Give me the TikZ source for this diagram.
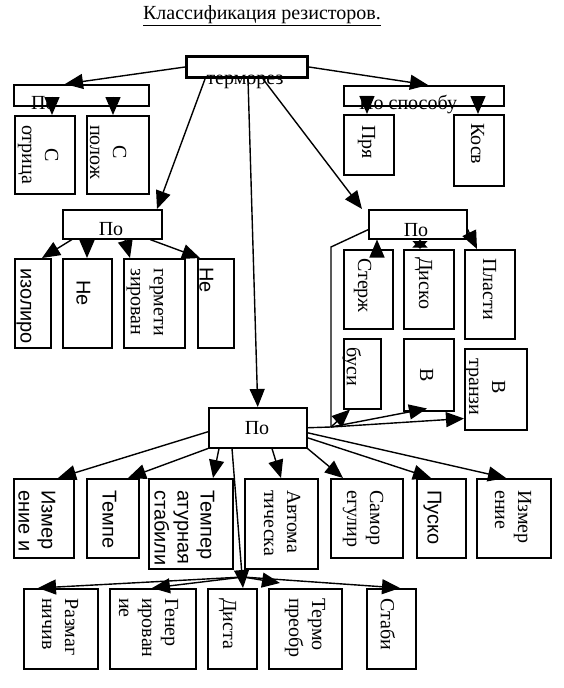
\documentclass[tikz,border=0pt]{standalone}
\usepackage{fontspec}
\setmainfont{Liberation Serif}
\setsansfont{Liberation Sans}
\usetikzlibrary{arrows.meta}
\tikzset{
  blk/.style={draw, line width=1.5pt, inner sep=0pt, anchor=north west},
  htx/.style={inner sep=0pt, font=\fontsize{20}{23}\selectfont},
  vtx/.style={rotate=-90, anchor=north west, inner sep=0pt, align=left, font=\fontsize{20}{23}\selectfont},
  vsf/.style={vtx, font=\sffamily\fontsize{20}{23}\selectfont},
  arr/.style={-{Triangle[length=18pt,width=15pt]}, line width=1.4pt},
}
\begin{document}
\begin{tikzpicture}[x=1pt, y=-1pt]
\useasboundingbox (0,0) rectangle (564,688);

\node[htx] (title) at (262,16) {\underline{Классификация резисторов.}};

\node[blk, line width=3pt, minimum width=121pt, minimum height=21pt] (top) at (185,55) {};
\node[htx, anchor=base] (topT) at (245,84) {терморез};

% left group
\node[blk, minimum width=135pt, minimum height=21pt] (pl) at (13,84) {};
\node[htx, anchor=base west] (plT) at (31,109) {По};
\node[blk, minimum width=60pt, minimum height=78pt] (otr) at (14,115) {};
\node[blk, minimum width=62pt, minimum height=78pt] (pol) at (86,115) {};
\node[vtx, align=center] (otrT) at ([shift={(-17,10)}]otr.north east) {С\\отрица};
\node[vtx, align=center] (polT) at ([shift={(-23,10)}]pol.north east) {С\\полож};

% right group
\node[blk, minimum width=160pt, minimum height=20pt] (pr) at (343,85) {};
\node[htx, anchor=base west] (prT) at (359,109) {По способу};
\node[blk, minimum width=50pt, minimum height=60pt] (prj) at (343,114) {};
\node[blk, minimum width=50pt, minimum height=71pt] (kos) at (453,114) {};
\node[vtx] (prjT) at ([shift={(-19,11)}]prj.north east) {Пря};
\node[vtx] (kosT) at ([shift={(-20,9)}]kos.north east) {Косв};

% middle left
\node[blk, minimum width=99pt, minimum height=29pt] (pm) at (62,209) {};
\node[htx, anchor=base] (pmT) at (111,235) {По};
\node[blk, minimum width=36pt, minimum height=89pt] (izo) at (14,258) {};
\node[blk, minimum width=49pt, minimum height=89pt] (ne1) at (62,258) {};
\node[blk, minimum width=61pt, minimum height=89pt] (ger) at (123,258) {};
\node[blk, minimum width=36pt, minimum height=89pt] (ne2) at (197,258) {};
\node[vsf] (izoT) at ([shift={(-20,10)}]izo.north east) {изолиро};
\node[vsf] (ne1T) at ([shift={(-22,22)}]ne1.north east) {Не};
\node[vtx] (gerT) at ([shift={(-22,10)}]ger.north east) {гермети\\зирован};
\node[vsf] (ne2T) at ([shift={(-21,9)}]ne2.north east) {Не};

% middle right
\node[blk, minimum width=98pt, minimum height=29pt] (pv) at (368,209) {};
\node[htx, anchor=base] (pvT) at (416,236) {По};
\node[blk, minimum width=49pt, minimum height=79pt] (ster) at (343,249) {};
\node[blk, minimum width=50pt, minimum height=79pt] (disk) at (403,249) {};
\node[blk, minimum width=50pt, minimum height=89pt] (plas) at (464,249) {};
\node[blk, minimum width=37pt, minimum height=70pt] (bus) at (343,338) {};
\node[blk, minimum width=50pt, minimum height=72pt] (vb) at (403,338) {};
\node[blk, minimum width=62pt, minimum height=81pt] (vtr) at (464,348) {};
\node[vtx] (sterT) at ([shift={(-22,9)}]ster.north east) {Стерж};
\node[vtx] (diskT) at ([shift={(-22,8)}]disk.north east) {Диско};
\node[vtx] (plasT) at ([shift={(-19,9)}]plas.north east) {Пласти};
\node[vtx] (busT) at ([shift={(-20,9)}]bus.north east) {буси};
\node[vtx] (vbT) at ([shift={(-21,30)}]vb.north east) {В};
\node[vtx, align=center] (vtrT) at ([shift={(-22,10)}]vtr.north east) {В\\транзи};

% bottom
\node[blk, minimum width=98pt, minimum height=40pt] (pb) at (208,407) {};
\node[htx, anchor=base] (pbT) at (257,434) {По};
\node[blk, minimum width=60pt, minimum height=79pt] (izm1) at (13,478) {};
\node[blk, minimum width=52pt, minimum height=79pt] (temp) at (86,478) {};
\node[blk, minimum width=84pt, minimum height=90pt] (tstab) at (148,478) {};
\node[blk, minimum width=73pt, minimum height=90pt] (avt) at (244,478) {};
\node[blk, minimum width=72pt, minimum height=79pt] (samr) at (330,478) {};
\node[blk, minimum width=49pt, minimum height=79pt] (pusk) at (416,478) {};
\node[blk, minimum width=74pt, minimum height=79pt] (izm2) at (476,478) {};
\node[vsf] (izm1T) at ([shift={(-19,12)}]izm1.north east) {Измер\\ение и};
\node[vsf] (tempT) at ([shift={(-23,12)}]temp.north east) {Темпе};
\node[vsf] (tstabT) at ([shift={(-19,12)}]tstab.north east) {Темпер\\атурная\\стабили};
\node[vtx] (avtT) at ([shift={(-18,12)}]avt.north east) {Автома\\тическа};
\node[vtx] (samrT) at ([shift={(-20,12)}]samr.north east) {Самор\\егулир};
\node[vsf] (puskT) at ([shift={(-25,12)}]pusk.north east) {Пуско};
\node[vtx] (izm2T) at ([shift={(-20,12)}]izm2.north east) {Измер\\ение};

\node[blk, minimum width=74pt, minimum height=80pt] (razm) at (23,588) {};
\node[blk, minimum width=86pt, minimum height=80pt] (gen) at (109,588) {};
\node[blk, minimum width=49pt, minimum height=80pt] (dist) at (207,588) {};
\node[blk, minimum width=73pt, minimum height=80pt] (term) at (268,588) {};
\node[blk, minimum width=49pt, minimum height=80pt] (stab) at (366,588) {};
\node[vtx] (razmT) at ([shift={(-20,10)}]razm.north east) {Размаг\\ничив};
\node[vtx] (genT) at ([shift={(-18,10)}]gen.north east) {Генер\\ирован\\ие};
\node[vtx] (distT) at ([shift={(-21,10)}]dist.north east) {Диста};
\node[vtx] (termT) at ([shift={(-17,10)}]term.north east) {Термо\\преобр};
\node[vtx] (stabT) at ([shift={(-21,10)}]stab.north east) {Стаби};

\coordinate (kink) at (331,247);
\coordinate (jR) at (331,427);
\coordinate (fan) at (243,577);

% connectors
\draw[arr] (top.west) -- ([xshift=52pt]pl.north west);
\draw[arr] (top.east) -- ([xshift=85pt]pr.north west);
\draw[arr] ([xshift=20pt]top.south west) -- ([xshift=95pt]pm.north west);
\draw[arr] ([xshift=63pt]top.south west) -- (pb.north);
\draw[arr] ([xshift=78pt]top.south west) -- ([xshift=-6pt]pv.north west);

\draw[arr] ([xshift=39pt,yshift=10pt]pl.south west) -- ([xshift=38pt]otr.north west);
\draw[arr] ([xshift=100pt,yshift=10pt]pl.south west) -- ([xshift=27pt]pol.north west);
\draw[arr] ([xshift=24pt,yshift=8pt]pr.south west) -- ([xshift=24pt]prj.north west);
\draw[arr] ([xshift=135pt,yshift=8pt]pr.south west) -- ([xshift=25pt]kos.north west);

\draw[arr] ([xshift=10pt]pm.south west) -- ([xshift=28pt]izo.north west);
\draw[arr] ([xshift=25pt]pm.south west) -- ([xshift=25pt]ne1.north west);
\draw[arr] ([xshift=63pt]pm.south west) -- ([xshift=7pt]ger.north west);
\draw[arr] ([xshift=88pt]pm.south west) -- ([xshift=3pt]ne2.north west);

\draw[arr] ([xshift=34pt]ster.north west) -- ([xshift=9pt]pv.south west);
\draw[{Triangle[length=8pt,width=15pt]}-{Triangle[length=8pt,width=15pt]}, line width=1.4pt] ([xshift=17pt]disk.north west) -- ([xshift=52pt]pv.south west);
\draw[arr] ([yshift=-5pt]pv.east) -- ([xshift=13pt]plas.north west);
\draw[line width=1.4pt] ([yshift=-5.5pt]pv.west) -- (kink) -- (jR) -- (pb.east);
\draw[arr] (jR) -- ([xshift=7pt]bus.south west);
\draw[arr] (jR) -- ([xshift=24pt,yshift=3pt]vb.south west);
\draw[arr] (jR) -- ([yshift=12pt]vtr.south west);

\draw[arr] ([yshift=-4pt]pb.west) -- ([xshift=45pt]izm1.north west);
\draw[arr] (pb.south west) -- ([xshift=42pt]temp.north west);
\draw[arr] ([xshift=11pt]pb.south west) -- ([xshift=65pt]tstab.north west);
\draw[arr] ([xshift=24pt]pb.south west) -- ([xshift=36pt]dist.north west);
\draw[arr] ([xshift=64pt]pb.south west) -- ([xshift=37pt]avt.north west);
\draw[arr] (pb.south east) -- ([xshift=13pt]samr.north west);
\draw[arr] ([yshift=-10pt]pb.east) -- ([xshift=15pt]pusk.north west);
\draw[arr] ([yshift=-5pt]pb.east) -- ([xshift=30pt]izm2.north west);

\draw[arr] (fan) -- ([xshift=15pt]razm.north west);
\draw[arr] (fan) -- ([xshift=43pt]gen.north west);
\draw[arr] (fan) -- ([xshift=12pt,yshift=5pt]term.north west);
\draw[arr] (fan) -- ([xshift=34pt]stab.north west);
\end{tikzpicture}
\end{document}
